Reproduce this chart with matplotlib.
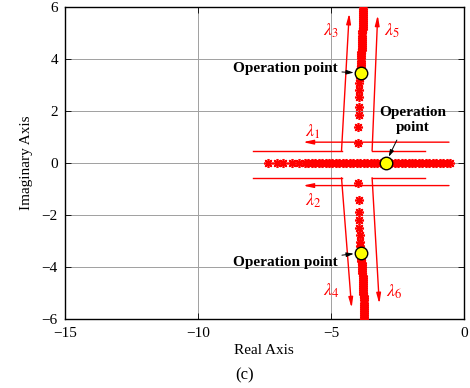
import matplotlib
matplotlib.use("Agg")
import matplotlib.pyplot as plt

plt.rcParams['font.family'] = ['Liberation Serif', 'DejaVu Serif']
plt.rcParams['mathtext.fontset'] = 'stix'

# ---- data ----
upper_imag = [0.77, 1.38, 1.85, 2.15, 2.54, 2.80, 3.08, 3.25, 3.38, 3.50, 3.60, 3.70,
              3.78, 3.86, 3.94, 4.02, 4.10, 4.18, 4.26, 4.34, 4.42, 4.50, 4.58, 4.66,
              4.74, 4.82, 4.90, 4.98, 5.06, 5.14, 5.22, 5.30, 5.38, 5.46, 5.54, 5.62,
              5.70, 5.78, 5.86, 5.94, 6.02]
upper_real = [-3.97, -3.97, -3.96, -3.96, -3.95, -3.94, -3.93, -3.92, -3.91, -3.90, -3.89, -3.88,
              -3.87, -3.87, -3.86, -3.86, -3.85, -3.85, -3.85, -3.84, -3.84, -3.84, -3.83, -3.83,
              -3.83, -3.82, -3.82, -3.82, -3.82, -3.81, -3.81, -3.81, -3.81, -3.80, -3.80, -3.80,
              -3.80, -3.80, -3.79, -3.79, -3.79]
lower_imag = [-0.77, -1.42, -1.88, -2.19, -2.50, -2.77, -3.04, -3.20, -3.33, -3.46, -3.58, -3.68,
              -3.77, -3.85, -3.93, -4.01, -4.09, -4.17, -4.25, -4.33, -4.41, -4.49, -4.57, -4.65,
              -4.73, -4.81, -4.89, -4.97, -5.05, -5.13, -5.21, -5.29, -5.37, -5.45, -5.53, -5.61,
              -5.69, -5.77, -5.85, -5.93, -6.01]
lower_real = [-3.97, -3.96, -3.95, -3.94, -3.93, -3.92, -3.91, -3.90, -3.89, -3.88, -3.87, -3.86,
              -3.85, -3.84, -3.84, -3.83, -3.83, -3.82, -3.82, -3.81, -3.81, -3.80, -3.80, -3.79,
              -3.79, -3.79, -3.78, -3.78, -3.78, -3.77, -3.77, -3.77, -3.76, -3.76, -3.76, -3.76,
              -3.75, -3.75, -3.75, -3.75, -3.74]
axis_real = [-7.37, -7.04, -6.80, -6.47, -6.20, -5.98, -5.85, -5.72, -5.59, -5.46, -5.33, -5.20,
             -5.07, -4.94, -4.81, -4.68, -4.55, -4.42, -4.29, -4.16, -4.03, -3.90, -3.77, -3.64,
             -3.51, -3.38, -3.25, -3.12, -2.99, -2.86, -2.73, -2.60, -2.47, -2.34, -2.21, -2.08,
             -1.95, -1.82, -1.69, -1.56, -1.43, -1.30, -1.17, -1.04, -0.91, -0.78, -0.65, -0.53]
axis_imag = [0.0] * len(axis_real)

op_real = [-3.88, -3.88, -2.94]
op_imag = [3.46, -3.46, 0.0]

xticks = [-15, -10, -5, 0]
yticks = [-6, -4, -2, 0, 2, 4, 6]

red = '#ff0000'
star = (8, 2, 0)

fig = plt.figure(figsize=(4.70, 3.88), dpi=100)
ax = fig.add_axes([0.138, 0.178, 0.849, 0.804])

ax.set_xlim(-15, 0)
ax.set_ylim(-6, 6)
ax.set_xticks(xticks)
ax.set_yticks(yticks)
ax.set_xticklabels(['\u2212' + str(-t) if t < 0 else str(t) for t in xticks])
ax.set_yticklabels(['\u2212' + str(-t) if t < 0 else str(t) for t in yticks])
ax.grid(True, color='#a0a0a0', linewidth=0.7)
ax.set_axisbelow(True)
ax.tick_params(direction='in', top=True, right=True, labelsize=11, length=4, width=0.6)
ax.tick_params(axis='x', pad=6)
ax.tick_params(axis='y', pad=5)
for s in ax.spines.values():
    s.set_linewidth(1.0)

mk = dict(linestyle='none', marker=star, color=red, markersize=6.5, markeredgewidth=1.2)
ax.plot(axis_real, axis_imag, **mk, zorder=3)
ax.plot(upper_real, upper_imag, **mk, zorder=3)
ax.plot(lower_real, lower_imag, **mk, zorder=3)

# trajectory guide lines
lw = 1.0
ax.plot([-7.93, -4.60], [0.47, 0.47], color=red, lw=lw)
ax.plot([-1.47, -3.45], [0.47, 0.47], color=red, lw=lw)
ax.plot([-7.93, -4.60], [-0.57, -0.57], color=red, lw=lw)
ax.plot([-1.47, -3.45], [-0.57, -0.57], color=red, lw=lw)

ap = dict(arrowstyle='-|>,head_length=0.6,head_width=0.13', color=red, lw=lw, shrinkA=0, shrinkB=0)
ax.annotate('', xy=(-4.31, 5.76), xytext=(-4.60, 0.47), arrowprops=ap)
ax.annotate('', xy=(-3.24, 5.69), xytext=(-3.45, 0.47), arrowprops=ap)
ax.annotate('', xy=(-4.22, -5.58), xytext=(-4.60, -0.57), arrowprops=ap)
ax.annotate('', xy=(-3.18, -5.42), xytext=(-3.45, -0.57), arrowprops=ap)
ax.annotate('', xy=(-6.05, 0.80), xytext=(-0.56, 0.80), arrowprops=ap)
ax.annotate('', xy=(-6.05, -0.87), xytext=(-0.56, -0.87), arrowprops=ap)

lab = dict(color=red, fontsize=13, ha='center', va='center')
ax.text(-5.68, 1.19, r'$\lambda_1$', **lab)
ax.text(-5.68, -1.46, r'$\lambda_2$', **lab)
ax.text(-5.00, 5.08, r'$\lambda_3$', **lab)
ax.text(-5.00, -4.92, r'$\lambda_4$', **lab)
ax.text(-2.71, 5.08, r'$\lambda_5$', **lab)
ax.text(-2.63, -4.96, r'$\lambda_6$', **lab)

ax.plot(op_real, op_imag, linestyle='none', marker='o', markersize=9,
        markerfacecolor='#ffff00', markeredgecolor='black', markeredgewidth=1.0, zorder=5)

aop = dict(arrowstyle='-|>,head_length=0.4,head_width=0.12', color='black', lw=0.7,
           shrinkA=1, shrinkB=5)
ax.annotate('Operation point', xy=(op_real[0], op_imag[0]), xytext=(-4.74, 3.62),
            ha='right', va='center', fontsize=11, fontweight='bold', arrowprops=aop)
ax.annotate('Operation point', xy=(op_real[1], op_imag[1]), xytext=(-4.74, -3.81),
            ha='right', va='center', fontsize=11, fontweight='bold', arrowprops=aop)
ax.text(-1.92, 1.65, 'Operation\npoint', ha='center', va='center', fontsize=11,
        fontweight='bold', linespacing=1.15)
ax.annotate('', xy=(op_real[2], op_imag[2]), xytext=(-2.52, 0.88),
            arrowprops=dict(aop, shrinkA=0))

ax.set_xlabel('Real Axis', fontsize=11, labelpad=3)
ax.set_ylabel('Imaginary Axis', fontsize=11, labelpad=6)
fig.text(245 / 470, 1 - 375 / 388, '(c)', ha='center', va='center', fontsize=12)

fig.savefig('out.png', dpi=100)
